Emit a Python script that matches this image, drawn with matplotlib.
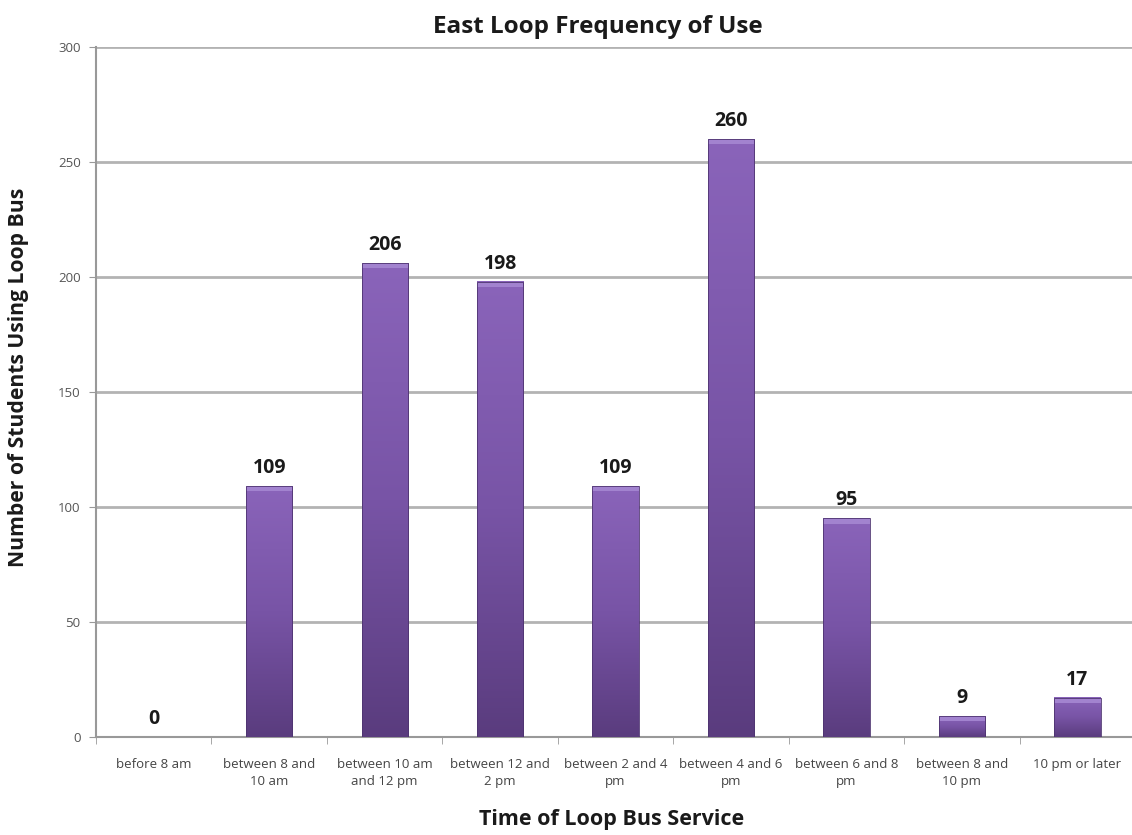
import numpy as np
import matplotlib
matplotlib.use("Agg")
import matplotlib.pyplot as plt
from matplotlib.colors import LinearSegmentedColormap

categories = ["before 8 am", "between 8 and\n10 am", "between 10 am\nand 12 pm",
              "between 12 and\n2 pm", "between 2 and 4\npm", "between 4 and 6\npm",
              "between 6 and 8\npm", "between 8 and\n10 pm", "10 pm or later"]
students = [0, 109, 206, 198, 109, 260, 95, 9, 17]
yticks = [0, 50, 100, 150, 200, 250, 300]

plt.rcParams['font.family'] = ['Open Sans', 'DejaVu Sans']

fig = plt.figure(figsize=(11.32, 8.35), dpi=100)
ax = fig.add_axes([0.0848, 0.1174, 0.918, 0.8263])

x = np.arange(len(categories))
bar_w = 0.4
bars = ax.bar(x, students, width=bar_w, color="#6f4c9b", zorder=3)

# vertical purple gradient on each bar, lighter toward the top
grad = LinearSegmentedColormap.from_list("bar", ["#5a3c7e", "#7854a6", "#8a64ba"])
ramp = np.linspace(0, 1, 256).reshape(-1, 1)
for b in bars:
    h = b.get_height()
    if h <= 0:
        continue
    x0 = b.get_x()
    ax.imshow(ramp, cmap=grad, origin="lower", aspect="auto",
              extent=(x0, x0 + bar_w, 0, h), zorder=3.5, interpolation="bicubic")
    # light cap along the top edge
    ax.add_patch(plt.Rectangle((x0, h - 2.2), bar_w, 2.2, color="#a283cf", zorder=4, lw=0))
    ax.add_patch(plt.Rectangle((x0, 0), bar_w, h, fill=False, ec="#4e3470", lw=0.6, zorder=4.2))

for xi, v in zip(x, students):
    ax.text(xi, v + 3.5, f"{v}", ha="center", va="bottom", fontsize=14,
            fontweight="bold", color="#1a1a1a", zorder=5)

ax.set_xlim(-0.5, len(categories) - 0.5)
ax.set_ylim(0, 300)
ax.set_yticks(yticks)
ax.set_yticklabels([str(t) for t in yticks], fontsize=9.5, color="#555555")
ax.yaxis.grid(True, color="#b3b3b3", lw=2.0, zorder=0)
ax.set_axisbelow(True)

ax.set_xticks(x)
ax.set_xticklabels(categories, fontsize=9.5, color="#444444", linespacing=1.4)
ax.tick_params(axis="x", length=0, pad=15)
ax.set_xticks(np.arange(-0.5, len(categories)), minor=True)
ax.tick_params(axis="x", which="minor", length=5, color="#999999", direction="out")
ax.tick_params(axis="y", length=5, color="#999999", direction="out", pad=6)

for side in ["top", "right"]:
    ax.spines[side].set_visible(False)
for side in ["left", "bottom"]:
    ax.spines[side].set_color("#999999")
    ax.spines[side].set_linewidth(1.5)

fig.text(0.528, 0.968, "East Loop Frequency of Use", ha="center", va="center",
         fontsize=17.5, fontweight="bold", color="#1a1a1a")
fig.text(0.54, 0.018, "Time of Loop Bus Service", ha="center", va="center",
         fontsize=15.5, fontweight="bold", color="#1a1a1a")
fig.text(0.016, 0.548, "Number of Students Using Loop Bus", ha="center", va="center",
         rotation=90, fontsize=15.2, fontweight="bold", color="#1a1a1a")

fig.savefig("out.png", dpi=100, facecolor="white")
